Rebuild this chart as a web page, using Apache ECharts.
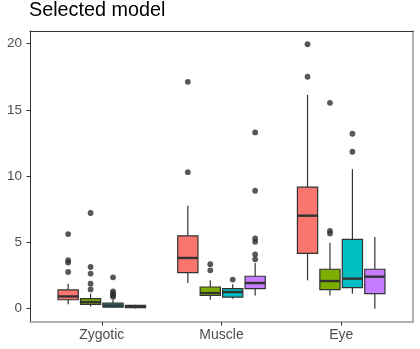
<!DOCTYPE html>
<html>
<head>
<meta charset="utf-8">
<script src="https://cdn.jsdelivr.net/npm/echarts@6/dist/echarts.min.js"></script>
<style>html,body{margin:0;padding:0;background:#fff}#c{width:420px;height:349px}</style>
</head>
<body>
<div id="c"></div>
<script>
const categories = ['Zygotic', 'Muscle', 'Eye'];
const groupColors = ['#F8766D', '#7CAE00', '#00BFC4', '#C77CFF'];
const yTicks = [0, 5, 10, 15, 20];

// box stats per group: [low whisker, Q1, median, Q3, high whisker] for Zygotic, Muscle, Eye
const statsGroup1 = [[0.33, 0.68, 0.93, 1.43, 1.89], [1.94, 2.73, 3.83, 5.50, 7.77], [2.14, 4.17, 7.02, 9.17, 16.14]];
const statsGroup2 = [[0.17, 0.33, 0.50, 0.76, 1.14], [0.68, 1.00, 1.18, 1.64, 2.14], [1.00, 1.44, 2.09, 2.98, 4.97]];
const statsGroup3 = [[0.05, 0.12, 0.25, 0.42, 0.68], [0.76, 0.88, 1.26, 1.52, 1.84], [1.14, 1.59, 2.27, 5.23, 10.53]];
const statsGroup4 = [[0.02, 0.08, 0.15, 0.25, 0.30], [1.00, 1.52, 1.94, 2.45, 3.45], [0.00, 1.14, 2.42, 2.98, 5.42]];

// outliers per group for Zygotic, Muscle, Eye
const outGroup1 = [[5.63, 3.66, 3.48, 2.77], [17.12, 10.30], [19.95, 17.50]];
const outGroup2 = [[7.22, 3.15, 2.65, 1.89, 1.46], [3.36, 2.90], [15.53, 5.88, 5.68]];
const outGroup3 = [[2.37, 1.30, 1.15, 1.00, 0.90], [2.20], [13.20, 11.84]];
const outGroup4 = [[], [13.30, 8.90, 5.30, 5.05, 4.09, 3.73], []];

const allStats = [statsGroup1, statsGroup2, statsGroup3, statsGroup4];
const allOut = [outGroup1, outGroup2, outGroup3, outGroup4];

const DODGE = 0.1875, BOXW = 0.169;
const xOf = (c, g) => c + 1 + (g - 1.5) * DODGE;

const series = [];
allStats.forEach((st, g) => {
  series.push({
    type: 'custom',
    xAxisIndex: 0, yAxisIndex: 0,
    data: st.map((s, c) => [xOf(c, g)].concat(s)),
    encode: { x: 0, y: [1, 2, 3, 4, 5] },
    renderItem: function (params, api) {
      const x = api.value(0);
      const lo = api.coord([x, api.value(1)]);
      const q1 = api.coord([x, api.value(2)]);
      const md = api.coord([x, api.value(3)]);
      const q3 = api.coord([x, api.value(4)]);
      const hi = api.coord([x, api.value(5)]);
      const w = api.size([BOXW, 0])[0];
      const stroke = { stroke: '#333333', lineWidth: 1.2, fill: null };
      return {
        type: 'group',
        children: [
          { type: 'line', shape: { x1: hi[0], y1: hi[1], x2: q3[0], y2: q3[1] }, style: stroke },
          { type: 'line', shape: { x1: q1[0], y1: q1[1], x2: lo[0], y2: lo[1] }, style: stroke },
          { type: 'rect', shape: { x: q3[0] - w / 2, y: q3[1], width: w, height: q1[1] - q3[1] },
            style: { fill: groupColors[g], stroke: '#333333', lineWidth: 1.2 } },
          { type: 'line', shape: { x1: md[0] - w / 2, y1: md[1], x2: md[0] + w / 2, y2: md[1] },
            style: { stroke: '#333333', lineWidth: 2.4 } }
        ]
      };
    },
    z: 2
  });
});
allOut.forEach((oc, g) => {
  const pts = [];
  oc.forEach((vals, c) => vals.forEach(v => pts.push([xOf(c, g), v])));
  series.push({
    type: 'scatter', data: pts, symbolSize: 5.8,
    itemStyle: { color: '#2e2e2e' }, z: 3, silent: true
  });
});

const font = "'Liberation Sans', Arial, Helvetica, sans-serif";
const chart = echarts.init(document.getElementById('c'), null, { renderer: 'canvas' });
chart.setOption({
  animation: false,
  backgroundColor: '#ffffff',
  title: { text: 'Selected model', left: 29, top: 1, padding: 0,
    textStyle: { fontSize: 19.8, fontWeight: 'normal', color: '#000000', fontFamily: font } },
  grid: { left: 30, right: 7, top: 31, bottom: 27, containLabel: false },
  xAxis: [{
    type: 'value', min: 0.4, max: 3.6, position: 'bottom',
    axisLine: { show: true, onZero: false, lineStyle: { color: '#9a9a9a', width: 1.5 } },
    axisTick: { show: true, length: 3.5, customValues: [1, 2, 3], lineStyle: { color: '#333333', width: 1 } },
    axisLabel: { customValues: [1, 2, 3], formatter: v => categories[Math.round(v) - 1],
      color: '#4D4D4D', fontSize: 14, margin: 6.5, fontFamily: font },
    splitLine: { show: false }
  }, {
    type: 'value', min: 0.4, max: 3.6, position: 'top',
    axisLine: { show: true, onZero: false, lineStyle: { color: '#333333', width: 1 } },
    axisTick: { show: false }, axisLabel: { show: false }, splitLine: { show: false }
  }],
  yAxis: [{
    type: 'value', min: -1.0, max: 20.95, position: 'left',
    axisLine: { show: true, onZero: false, lineStyle: { color: '#333333', width: 1 } },
    axisTick: { show: true, length: 3.5, customValues: yTicks, lineStyle: { color: '#333333', width: 1 } },
    axisLabel: { customValues: yTicks, color: '#4D4D4D', fontSize: 13.5, margin: 8, fontFamily: font },
    splitLine: { show: false }
  }, {
    type: 'value', min: -1.0, max: 20.95, position: 'right',
    axisLine: { show: true, onZero: false, lineStyle: { color: '#9a9a9a', width: 1.5 } },
    axisTick: { show: false }, axisLabel: { show: false }, splitLine: { show: false }
  }],
  series: series
});
</script>
</body>
</html>
